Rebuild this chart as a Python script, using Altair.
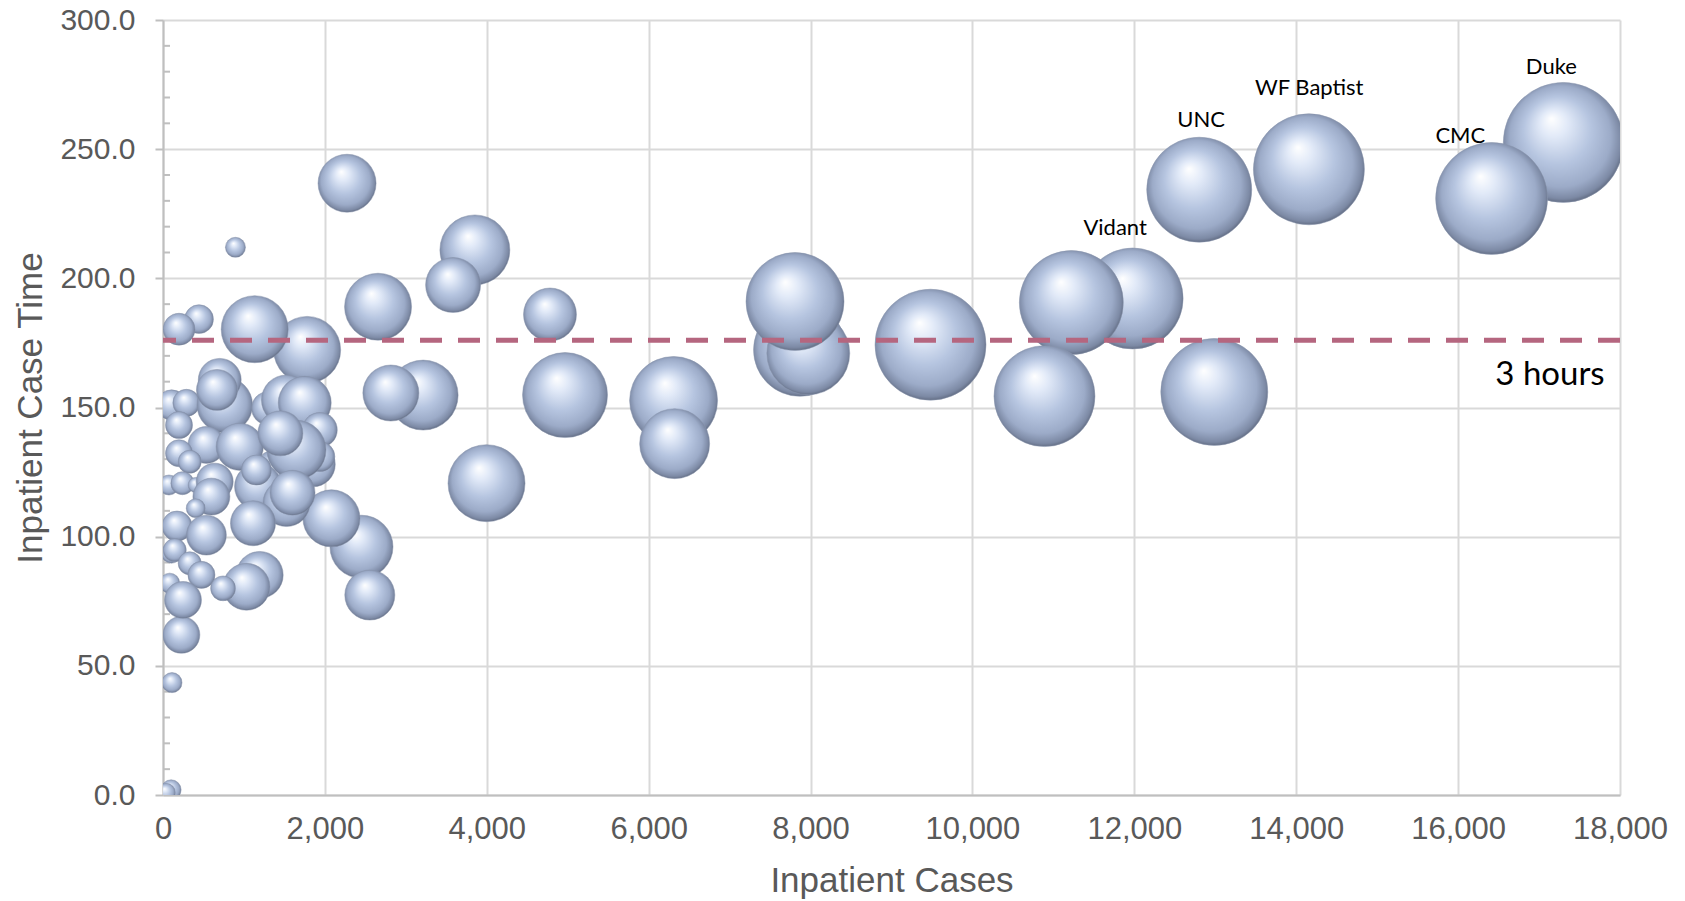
import altair as alt
import pandas as pd

# ---- data ----
cases = [17300, 16414, 14157, 12802, 11979, 11222, 12988, 10890, 9482, 7870,
         7972, 7808, 6308, 6321, 4967, 3997, 3853, 3584, 4781, 2274,
         2657, 3214, 2815, 2452, 2555, 2081, 1781, 1133, 895, 445,
         198, 227, 111, 100, 40,
         1400, 1850, 104, 289, 198, 763, 701, 667, 1298, 1525, 1751, 1937,
         1937, 1649, 536, 948, 198, 330, 74, 240, 404, 639,
         1174, 1525, 1112, 598, 404, 173, 536, 104, 145, 330,
         475, 83, 1195, 1031, 742, 247, 1450, 1600, 1154]
case_time = [252.6, 230.9, 242.2, 234.3, 192.2, 190.6, 156.0, 154.4, 174.3, 172.3,
             171.0, 191.0, 152.7, 136.0, 154.8, 120.7, 211.0, 197.4, 186.0, 236.8,
             189.0, 154.8, 155.6, 96.1, 77.4, 107.1, 172.3, 180.3, 212.0, 184.2,
             180.3, 62.0, 43.5, 2.0, 1.0,
             125.0, 128.0, 151.0, 151.8, 143.2, 151.0, 160.7, 156.8, 149.7, 152.9, 151.8, 141.3,
             131.0, 133.6, 135.5, 134.8, 132.3, 129.0, 120.0, 120.7, 120.0, 121.3,
             119.4, 113.0, 105.2, 115.5, 111.0, 104.1, 100.6, 93.6, 94.8, 89.7,
             85.2, 82.0, 85.2, 80.6, 80.0, 75.5, 140.0, 117.0, 125.8]
bubble_size = [100, 87, 85.6, 76.6, 70.8, 75.1, 79.5, 70.8, 85.6, 60,
               47.8, 66.7, 53.8, 34, 50.2, 41.2, 34, 21, 19.5, 23.4,
               31.2, 34, 21.8, 27.6, 17.4, 22.6, 31.2, 31.2, 2.8, 5.8,
               7.1, 9.5, 2.8, 2.8, 2.3,
               14.1, 14.1, 6.3, 5.1, 5.1, 21.5, 12.8, 11.7, 7.6, 17.4, 19.5, 8.5,
               6.3, 24.2, 9.5, 15.5, 5.1, 3.7, 2.8, 3.7, 1.6, 9.5,
               15.3, 15.3, 14.1, 9.5, 2.5, 6.3, 11.1, 2.8, 3.7, 3.7,
               5.1, 2.8, 15.3, 15.3, 4.3, 9.5, 14.1, 14.1, 6.3]

label_names = ["Duke", "CMC", "WF Baptist", "UNC", "Vidant"]
label_x = [17152, 16027, 14161, 12826, 11763]
label_y = [282.0, 255.2, 273.7, 261.3, 219.5]

threshold = [176.0]
threshold_label = ["3 hours"]
threshold_label_x = [17810]
threshold_label_y = [162.6]

x_ticks = list(range(0, 18001, 2000))
y_ticks = [0, 50, 100, 150, 200, 250, 300]
y_minor = [v for v in range(10, 300, 10) if v % 50 != 0]

df = pd.DataFrame({"cases": cases, "time": case_time, "size": bubble_size})
lab = pd.DataFrame({"name": label_names, "x": label_x, "y": label_y})
thr = pd.DataFrame({"y": threshold})
thr_lab = pd.DataFrame({"t": threshold_label, "x": threshold_label_x, "y": threshold_label_y})
minor = pd.DataFrame({"y": y_minor})

GREY = "#595959"
FONT = "Liberation Sans"

xscale = alt.Scale(domain=[0, 18000], nice=False, zero=True)
yscale = alt.Scale(domain=[0, 300], nice=False, zero=True)

xaxis = alt.Axis(values=x_ticks, format=",d", labelFont=FONT, labelFontSize=31,
                 labelColor=GREY, title="Inpatient Cases", titleFont=FONT,
                 titleFontSize=35, titleFontWeight="normal", titleColor=GREY,
                 grid=True, gridColor="#D9D9D9", gridWidth=2, domainColor="#BFBFBF",
                 domainWidth=2, ticks=False, tickSize=0, labelPadding=19,
                 titlePadding=19, labelFlush=False)
yaxis = alt.Axis(values=y_ticks, format=".1f", labelFont=FONT, labelFontSize=30,
                 labelColor=GREY, title="Inpatient Case Time", titleFont=FONT,
                 titleFontSize=35, titleFontWeight="normal", titleColor=GREY,
                 grid=True, gridColor="#D9D9D9", gridWidth=2, domainColor="#BFBFBF",
                 domainWidth=2, ticks=True, tickSize=8, tickColor="#BFBFBF",
                 tickWidth=2, labelPadding=20, titlePadding=11, labelFlush=False)

sphere = {
    "gradient": "radial",
    "x1": 0.4, "y1": 0.3, "r1": 0,
    "x2": 0.5, "y2": 0.5, "r2": 0.56,
    "stops": [
        {"offset": 0.0, "color": "#FFFFFF"},
        {"offset": 0.2, "color": "#E2EAF8"},
        {"offset": 0.5, "color": "#B6C5E0"},
        {"offset": 0.75, "color": "#9CABC8"},
        {"offset": 0.88, "color": "#7C89A4"},
        {"offset": 1.0, "color": "#353B49"},
    ],
}

bubbles = alt.Chart(df).mark_circle(fill=sphere, opacity=1, fillOpacity=1,
                                    stroke="#8A96AE", strokeWidth=0.5, clip=True).encode(
    x=alt.X("cases:Q", scale=xscale, axis=xaxis),
    y=alt.Y("time:Q", scale=yscale, axis=yaxis),
    size=alt.Size("size:Q", scale=alt.Scale(domain=[0, 100], range=[0, 14400], zero=True),
                  legend=None),
)

minor_ticks = alt.Chart(minor).mark_rule(color="#BFBFBF", strokeWidth=2).encode(
    y=alt.Y("y:Q", scale=yscale),
    x=alt.value(0), x2=alt.value(7),
)

dash = alt.Chart(thr).mark_rule(color="#B5667F", strokeWidth=5, strokeDash=[22, 16]).encode(
    y=alt.Y("y:Q", scale=yscale),
)

labels = alt.Chart(lab).mark_text(font="Lato", fontSize=22, color="#000000",
                                  align="center", baseline="middle").encode(
    x=alt.X("x:Q", scale=xscale), y=alt.Y("y:Q", scale=yscale), text="name:N")

thr_text = alt.Chart(thr_lab).mark_text(font="Lato", fontSize=33, color="#000000",
                                        align="right", baseline="middle").encode(
    x=alt.X("x:Q", scale=xscale), y=alt.Y("y:Q", scale=yscale), text="t:N")

chart = alt.layer(minor_ticks, bubbles, dash, labels, thr_text).properties(
    width=1457, height=775, autosize="none",
    padding={"left": 155, "top": 12, "right": 50, "bottom": 104},
).configure_view(strokeWidth=0)

chart.save("out.html", embed_options={"renderer": "svg", "actions": False})
